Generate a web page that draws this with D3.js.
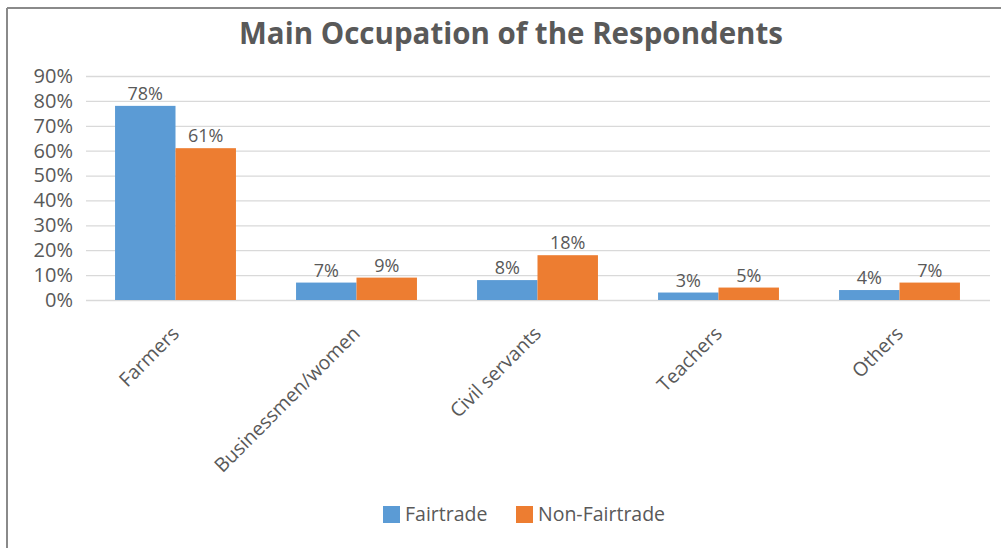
<!DOCTYPE html>
<html>
<head>
<meta charset="utf-8">
<script src="https://cdn.jsdelivr.net/npm/d3@7"></script>
<style>
  html, body { margin: 0; padding: 0; background: #fff; }
  svg { display: block; }
  text { font-family: "Open Sans", "Noto Sans", sans-serif; fill: #595959; }
</style>
</head>
<body>
<svg id="chart" width="1001" height="548"></svg>
<script>
// Occupation categories and share of respondents (%) per group
const categories = ["Farmers", "Businessmen/women", "Civil servants", "Teachers", "Others"];
const fairtrade = [78, 7, 8, 3, 4];
const nonFairtrade = [61, 9, 18, 5, 7];
const seriesNames = ["Fairtrade", "Non-Fairtrade"];
const seriesColors = ["#5b9bd5", "#ed7d31"];
const yTicks = [0, 10, 20, 30, 40, 50, 60, 70, 80, 90];

const svg = d3.select("#chart");
const W = 1001, H = 548;
const plot = { left: 85, right: 990, top: 76, bottom: 300 };

// frame of the chart area
svg.append("rect").attr("x", 0).attr("y", 0).attr("width", W).attr("height", H).attr("fill", "#fff");
svg.append("line").attr("x1", 7).attr("x2", W).attr("y1", 8).attr("y2", 8)
  .attr("stroke", "#8a8a8a").attr("stroke-width", 2);
svg.append("line").attr("x1", 7).attr("x2", 7).attr("y1", 8).attr("y2", H)
  .attr("stroke", "#8a8a8a").attr("stroke-width", 2);

// title
svg.append("text")
  .attr("x", 511).attr("y", 44)
  .attr("text-anchor", "middle")
  .style("font-size", "29.5px").style("font-weight", "bold")
  .text("Main Occupation of the Respondents");

const y = d3.scaleLinear().domain([0, 90]).range([plot.bottom, plot.top]);
const x = d3.scaleBand().domain(categories).range([plot.left, plot.right])
  .paddingInner(0.332).paddingOuter(0.166);
const xs = d3.scaleBand().domain(seriesNames).range([0, x.bandwidth()]);

// gridlines and y tick labels
const yAxis = d3.axisLeft(y).tickValues(yTicks).tickFormat(d => d + "%")
  .tickSize(-(plot.right - plot.left - 1)).tickPadding(13);
const gy = svg.append("g").attr("transform", `translate(${plot.left + 1},0)`).call(yAxis);
gy.select(".domain").remove();
gy.selectAll(".tick line").attr("stroke", "#d9d9d9").attr("stroke-width", 1.3);
gy.selectAll(".tick text")
  .style("font-size", "20px").style("fill", "#595959")
  .style("font-family", "\"Open Sans\", sans-serif");

// bars
const rows = categories.map((c, i) => ({ cat: c, vals: [fairtrade[i], nonFairtrade[i]] }));
const groups = svg.append("g").selectAll("g").data(rows).join("g")
  .attr("transform", d => `translate(${x(d.cat)},0)`);

groups.selectAll("rect")
  .data(d => d.vals.map((v, j) => ({ v, s: seriesNames[j], c: seriesColors[j] })))
  .join("rect")
  .attr("x", d => xs(d.s))
  .attr("width", xs.bandwidth())
  .attr("y", d => y(d.v))
  .attr("height", d => y(0) - y(d.v))
  .attr("fill", d => d.c);

// value labels
groups.selectAll("text.val")
  .data(d => d.vals.map((v, j) => ({ v, s: seriesNames[j] })))
  .join("text")
  .attr("class", "val")
  .attr("x", d => xs(d.s) + xs.bandwidth() / 2)
  .attr("y", d => y(d.v) - 6)
  .attr("text-anchor", "middle")
  .style("font-size", "18px")
  .text(d => d.v + "%");

// category labels, rotated
const gx = svg.append("g").attr("transform", `translate(0,${plot.bottom})`)
  .call(d3.axisBottom(x).tickSize(0).tickPadding(0));
gx.select(".domain").remove();
gx.selectAll(".tick text")
  .attr("text-anchor", "end")
  .attr("transform", "translate(0,30) rotate(-45)")
  .attr("dy", "0.35em")
  .attr("y", 0)
  .style("font-size", "19.5px").style("fill", "#595959")
  .style("font-family", "\"Open Sans\", sans-serif");

// legend
const legend = svg.append("g").attr("transform", "translate(383,506)");
const legX = [0, 133];
seriesNames.forEach((name, i) => {
  const g = legend.append("g").attr("transform", `translate(${legX[i]},0)`);
  g.append("rect").attr("width", 17).attr("height", 17).attr("fill", seriesColors[i]);
  g.append("text").attr("x", 22).attr("y", 15).style("font-size", "19.5px").text(name);
});
</script>
</body>
</html>
